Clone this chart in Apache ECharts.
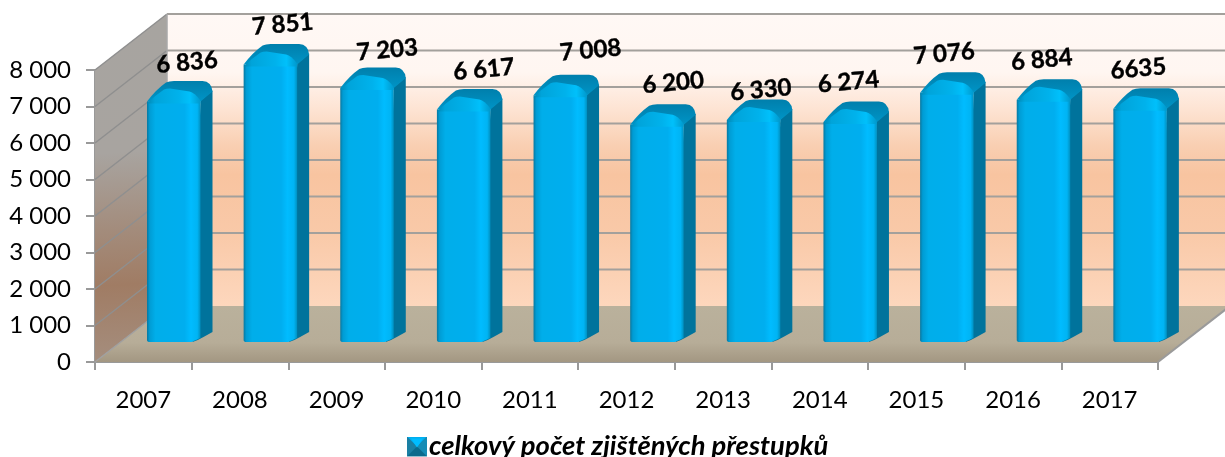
<!DOCTYPE html>
<html><head><meta charset="utf-8">
<style>html,body{margin:0;padding:0;background:#fff}#c{width:1225px;height:457px}</style>
<script src="https://cdn.jsdelivr.net/npm/echarts@6/dist/echarts.min.js"></script>
</head><body><div id="c"></div>
<script>
const categories = ['2007','2008','2009','2010','2011','2012','2013','2014','2015','2016','2017'];
const values = [6836,7851,7203,6617,7008,6200,6330,6274,7076,6884,6635];
const valueLabels = ['6 836','7 851','7 203','6 617','7 008','6 200','6 330','6 274','7 076','6 884','6635'];
const yTicks = [0,1000,2000,3000,4000,5000,6000,7000,8000];
const seriesName = 'celkový počet zjištěných přestupků';

// perspective and label layout (not data)
const DEPTH = {dx:72, dy:-56};
const BAR = {inset:52, w:53.5, sideDx:12, sideDy:-11, baseDy:-20};
const labelDx = [40,39,47,47,57,43,34,25,24,25,25];
const labelDy = [-19,-20,-18,-20,-25,-22,-10,-20,-19,-20,-20];
const font = 'Lato, Carlito, "Open Sans", sans-serif';

const lg = (stops, x2, y2) => ({type:'linear',x:0,y:0,x2:x2||0,y2:y2===undefined?1:y2,colorStops:stops.map(s=>({offset:s[0],color:s[1]}))});
const poly = (points, style) => ({type:'polygon',shape:{points},style});
const line = (a,b,stroke,w) => ({type:'line',shape:{x1:a[0],y1:a[1],x2:b[0],y2:b[1]},style:{stroke,lineWidth:w}});

function renderWalls(params, api){
  const zero = api.coord([0,0]);
  const top = api.coord([0,8000]);
  const cs = params.coordSys;
  const L = cs.x, R = cs.x+cs.width, B = zero[1], T = top[1];
  const d = DEPTH;
  const kids = [];
  kids.push(poly([[L+d.dx,T+d.dy],[R+d.dx,T+d.dy],[R+d.dx,B+d.dy],[L+d.dx,B+d.dy]],{
    fill:lg([[0,'#fff8f5'],[0.2,'#fff6f1'],[0.33,'#fde3d2'],[0.45,'#f9cfb2'],[0.55,'#f8c4a0'],[0.75,'#f9c9a8'],[1,'#fdd7bd']])}));
  kids.push(poly([[L,T],[L+d.dx,T+d.dy],[L+d.dx,B+d.dy],[L,B]],{
    fill:lg([[0,'#a7a4a0'],[0.4,'#a8a4a0'],[0.62,'#a38c7c'],[0.78,'#a07c64'],[1,'#a58e7e']],0.25,1)}));
  kids.push(poly([[L,B],[L+d.dx,B+d.dy],[R+d.dx,B+d.dy],[R,B]],{
    fill:lg([[0,'#bab19c'],[0.65,'#b7ad98'],[1,'#a39782']])}));
  yTicks.forEach(v=>{
    const y = api.coord([0,v])[1];
    if(v>0){ kids.push(line([L,y],[L+d.dx,y+d.dy],'#8f8f8f',1.5));
    kids.push(line([L+d.dx,y+d.dy],[R+d.dx,y+d.dy],'#a3a09c',2)); }
  });
  kids.push(line([L+d.dx,T+d.dy],[L+d.dx,B+d.dy],'#a8a8a8',1.5));
  kids.push(line([L,B],[L+d.dx,B+d.dy],'#a0a0a0',1.5));
  kids.push(line([R,B],[R+d.dx,B+d.dy],'#9a9a9a',2));
  return {type:'group',children:kids,silent:true};
}

function renderBar(params, api){
  const i = api.value(0), v = api.value(1);
  const base = api.coord([i,0]), top = api.coord([i,v]);
  const band = api.size([1,0])[0];
  const x0 = base[0]-band/2+BAR.inset, x1 = x0+BAR.w;
  const b = base[1]+BAR.baseDy, t = top[1]+BAR.baseDy;
  const sx = x1+BAR.sideDx, kids = [];
  // side face
  kids.push({type:'path',shape:{pathData:`M${x1-8} ${b} Q${x1-2} ${b-2} ${x1+3} ${b-5} L${sx} ${b-10} L${sx} ${t-2} L${x1} ${t+8} Z`},style:{fill:'#00739c'}});
  // top face
  kids.push({type:'path',shape:{pathData:`M${x0} ${t+9} Q${x0+9} ${t-3} ${x0+19} ${t-10} Q${x0+22} ${t-11.5} ${x0+27} ${t-11.5} L${sx-10} ${t-11.5} Q${sx-1} ${t-11} ${sx} ${t-1} L${x1} ${t+9} Z`},style:{fill:lg([[0,'#007fac'],[1,'#0094c6']])}});
  // front face
  kids.push({type:'path',shape:{pathData:`M${x0} ${b-2} Q${x0} ${b} ${x0+3} ${b} L${x1-9} ${b} L${x1} ${b-4} L${x1} ${t+9} L${x0} ${t+9} Z`},
    style:{fill:lg([[0,'#0878a0'],[0.05,'#009cd4'],[0.16,'#00aeea'],[0.7,'#00aeef'],[0.82,'#00bcff'],[0.94,'#00b4f4'],[1,'#0090c0']],1,0)}});
  // rounded bevel along the top of the front face
  kids.push({type:'path',shape:{pathData:`M${x0} ${t+11} Q${x0+8} ${t+3} ${x0+17} ${t-3} Q${x0+19} ${t-4} ${x0+23} ${t-4} L${x1-11} ${t-1} Q${x1-6} ${t} ${x1} ${t+8} L${x1} ${t+11} Z`},
    style:{fill:lg([[0,'#0088b5'],[0.15,'#00a4da'],[0.6,'#00b2ec'],[0.8,'#00c0fb'],[1,'#0098cc']],1,0)}});
  // label
  kids.push({type:'text',x:x0+labelDx[i],y:t-11+labelDy[i],rotation:0.09,
    style:{text:valueLabels[i],font:'bold 24px '+font,fill:'#000',stroke:'#000',lineWidth:0.4,align:'center',verticalAlign:'middle'}});
  return {type:'group',children:kids};
}

const legendIcon = 'image://data:image/svg+xml;utf8,' + encodeURIComponent(
 '<svg xmlns="http://www.w3.org/2000/svg" width="20" height="20"><rect width="20" height="20" fill="#1a7fa3"/>'+
 '<polygon points="0,0 10,10 0,20" fill="#1a7fa3"/><polygon points="0,0 20,0 10,10" fill="#00aeef"/>'+
 '<polygon points="20,0 20,20 10,10" fill="#158cb5"/><polygon points="0,20 20,20 10,10" fill="#0b6a8c"/>'+
 '<polygon points="4,2 16,2 10,11" fill="#00bcff"/></svg>');

const chart = echarts.init(document.getElementById('c'),null,{renderer:'canvas'});
chart.setOption({
  animation:false,
  backgroundColor:'#fff',
  grid:{left:95,right:67,top:70,bottom:95,containLabel:false},
  legend:{data:[{name:seriesName,icon:legendIcon}],left:402,top:428,itemWidth:20,itemHeight:20,itemGap:3,
    textStyle:{fontFamily:font,fontStyle:'italic',fontWeight:'bold',fontSize:27.4,color:'#000',padding:[0,0,0,-3]}},
  xAxis:{type:'category',data:categories,boundaryGap:true,
    axisLine:{show:true,onZero:false,lineStyle:{color:'#999',width:2}},
    axisTick:{show:true,length:8,alignWithLabel:false,lineStyle:{color:'#999',width:2}},
    axisLabel:{interval:0,margin:26,fontFamily:font,fontSize:24,color:'#000'},splitLine:{show:false}},
  yAxis:{type:'value',min:0,max:8000,interval:1000,
    axisLine:{show:true,lineStyle:{color:'#999',width:2}},
    axisTick:{show:true,length:9,lineStyle:{color:'#999',width:2}},
    axisLabel:{margin:24,padding:[3,0,0,0],fontFamily:font,fontSize:24,color:'#000',formatter:v=>String(v).replace(/(\d)(\d{3})$/,'$1 $2')},
    splitLine:{show:false}},
  series:[
    {type:'custom',name:'walls',renderItem:renderWalls,data:[[0,0]],silent:true,clip:false,z:1,encode:{x:0,y:1}},
    {type:'custom',name:seriesName,renderItem:renderBar,data:values.map((v,i)=>[i,v]),clip:false,z:3,encode:{x:0,y:1},itemStyle:{color:'#00b0f0'}}
  ]
});
</script></body></html>
